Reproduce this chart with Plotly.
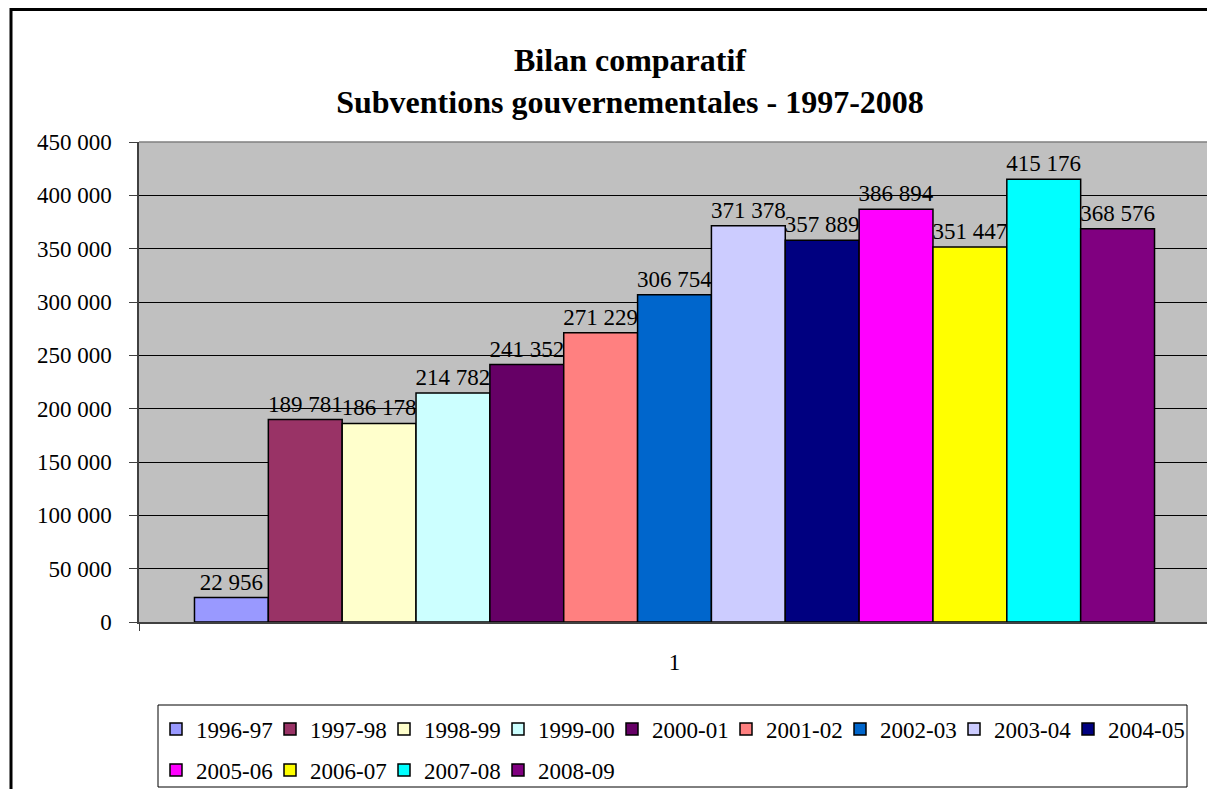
import plotly.graph_objects as go

categories = ["1"]
series_names = ["1996-97", "1997-98", "1998-99", "1999-00", "2000-01", "2001-02", "2002-03",
                "2003-04", "2004-05", "2005-06", "2006-07", "2007-08", "2008-09"]
series_values = [22956, 189781, 186178, 214782, 241352, 271229, 306754,
                 371378, 357889, 386894, 351447, 415176, 368576]
series_colors = ["#9999FF", "#993366", "#FFFFCC", "#CCFFFF", "#660066", "#FF8080", "#0066CC",
                 "#CCCCFF", "#000080", "#FF00FF", "#FFFF00", "#00FFFF", "#800080"]
y_ticks = [0, 50000, 100000, 150000, 200000, 250000, 300000, 350000, 400000, 450000]

FONT = "Liberation Serif, Times New Roman, serif"

# page body has an 8px margin: figure coordinates = screen coordinates - 8
OFF = 8
W, H = 1207, 781
L = 139 - OFF
T = 142 - OFF
R = W - (1210 - OFF)
B = H - (622 - OFF)
pw = W - L - R
ph = H - T - B


def px_x(x):
    return (x - OFF - L) / pw


def px_y(y):
    return (H - B - (y - OFF)) / ph


fig = go.Figure()
for i, (name, val, col) in enumerate(zip(series_names, series_values, series_colors)):
    last_in_row = (i == 8) or (i == len(series_names) - 1)
    fig.add_trace(go.Bar(
        x=categories, y=[val], name=name,
        marker=dict(color=col, line=dict(color="black", width=1.5)),
        texttemplate="%{y:,}", textposition="outside", cliponaxis=False,
        constraintext="none",
        textfont=dict(family=FONT, size=23, color="black"),
        legend="legend" if i < 9 else "legend2",
        legendwidth=95 if last_in_row else None,
        hoverinfo="skip",
    ))

legend_common = dict(
    orientation="h", xanchor="left", yanchor="middle",
    font=dict(family=FONT, size=23, color="black"),
    bgcolor="rgba(0,0,0,0)", borderwidth=0, entrywidth=69, entrywidthmode="pixels",
    itemclick=False, itemdoubleclick=False,
)

fig.update_layout(
    width=W, height=H,
    margin=dict(l=L, r=R, t=T, b=B, autoexpand=False),
    paper_bgcolor="white", plot_bgcolor="#C0C0C0",
    separators=", ",
    barmode="group", bargap=0.1036, bargroupgap=0,
    title=dict(
        text="<b>Bilan comparatif<br>Subventions gouvernementales - 1997-2008</b>",
        font=dict(family=FONT, size=32, color="black"),
        x=(630 - OFF) / W, xref="container", xanchor="center",
        y=1 - 63.4 / H, yref="container", yanchor="top",
    ),
    xaxis=dict(
        type="category", tickson="boundaries", ticks="outside", ticklen=7,
        tickcolor="#404040", showline=True, linecolor="#404040", linewidth=1.5,
        showgrid=False, ticklabelstandoff=19,
        tickfont=dict(family=FONT, size=23, color="black"),
    ),
    yaxis=dict(
        range=[0, 450000], tickvals=y_ticks, tickformat=",",
        ticks="outside", ticklen=8, tickcolor="#404040",
        showline=True, linecolor="#404040", linewidth=1.5,
        showgrid=True, gridcolor="black", gridwidth=1, zeroline=False,
        ticklabelstandoff=13,
        tickfont=dict(family=FONT, size=23, color="black"),
    ),
    legend=dict(x=px_x(156), y=px_y(729), **legend_common),
    legend2=dict(x=px_x(156), y=px_y(770), **legend_common),
    showlegend=True,
    shapes=[
        # plot area top/right border
        dict(type="path", xref="paper", yref="paper", path="M0,1 L1,1 L1,0",
             line=dict(color="#808080", width=1.5), layer="above"),
        # legend box
        dict(type="rect", xref="paper", yref="paper",
             x0=px_x(158), x1=px_x(1187), y0=px_y(787), y1=px_y(705),
             line=dict(color="black", width=1), layer="above"),
        # outer chart border
        dict(type="rect", xref="paper", yref="paper",
             x0=px_x(11), x1=px_x(1300), y0=px_y(900), y1=px_y(9.5),
             line=dict(color="black", width=3), layer="above"),
    ],
)

fig.write_html("out.html")
